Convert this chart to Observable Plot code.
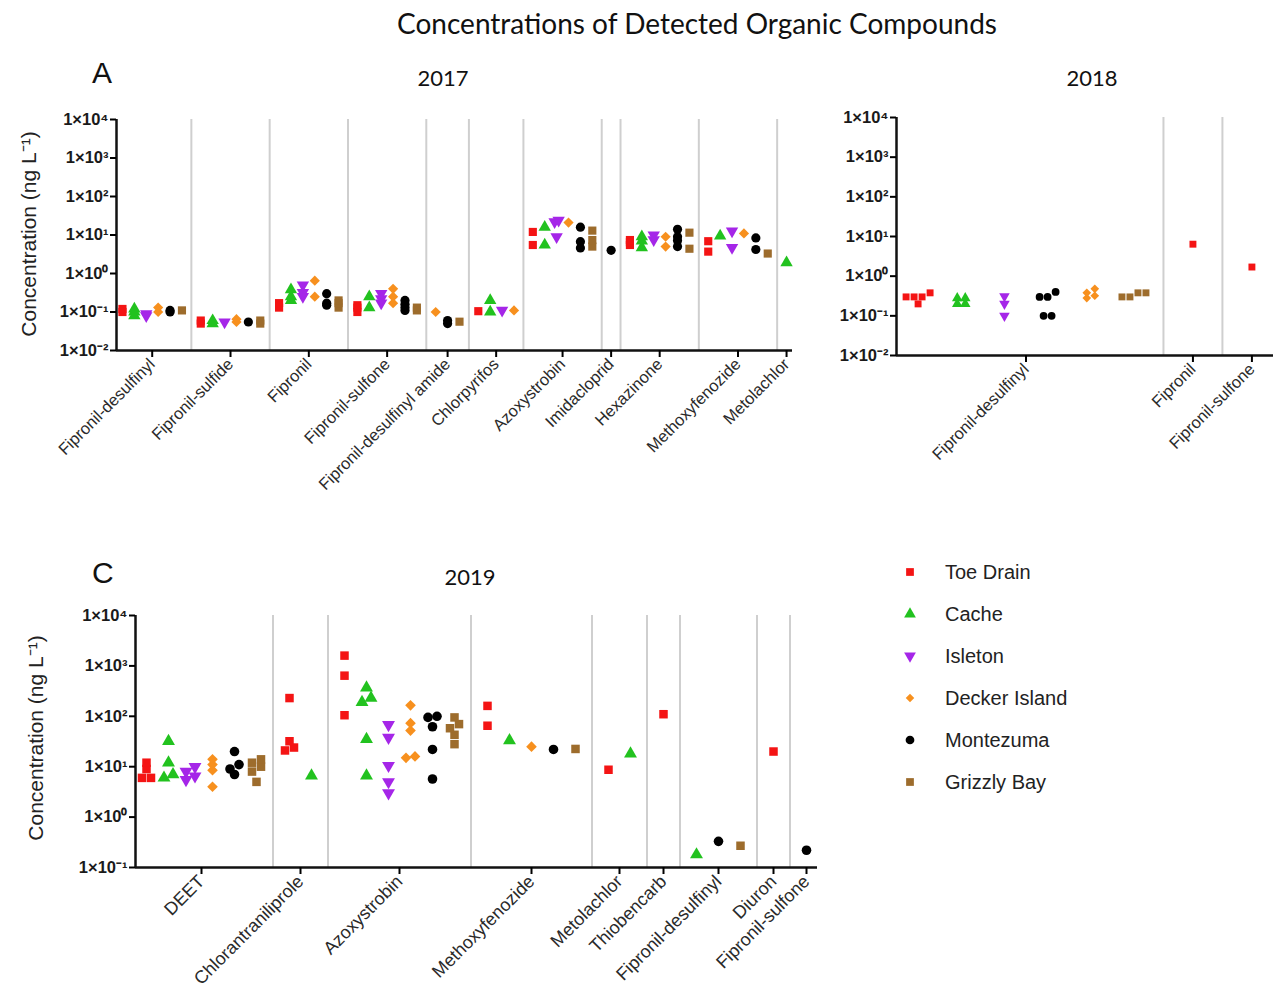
<!DOCTYPE html>
<html>
<head>
<meta charset="utf-8">
<script src="https://cdn.jsdelivr.net/npm/d3@7"></script>
<script src="https://cdn.jsdelivr.net/npm/@observablehq/plot@0.6"></script>
<style>
  body { margin: 0; background: #fff; width: 1284px; height: 1005px; position: relative; overflow: hidden;
         font-family: "Liberation Sans", Arial, sans-serif; color: #111; }
  .abs { position: absolute; white-space: nowrap; }
  .title { font-family: Lato, "Open Sans", sans-serif; font-size: 28px; color: #111; }
  .ptitle { font-family: Lato, "Open Sans", sans-serif; font-size: 22px; color: #111; }
  .letter { font-size: 30px; color: #111; }
  .ylab { font-size: 21px; color: #222; transform: translate(-50%, -50%) rotate(-90deg); }
  .panel svg { font-family: "Liberation Sans", Arial, sans-serif !important; }
</style>
</head>
<body>
<script>
// ---------- data ----------
const sites = ["Toe Drain", "Cache", "Isleton", "Decker Island", "Montezuma", "Grizzly Bay"];
const siteColors = ["#f41414", "#22c21f", "#a526e8", "#f7901e", "#000000", "#9d6c2c"];

const entries2017 = [
  ["Fipronil-desulfinyl", "Toe Drain", [0.1, 0.12]],
  ["Fipronil-desulfinyl", "Cache", [0.08, 0.1, 0.12]],
  ["Fipronil-desulfinyl", "Isleton", [0.08, 0.09]],
  ["Fipronil-desulfinyl", "Decker Island", [0.1, 0.13]],
  ["Fipronil-desulfinyl", "Montezuma", [0.1, 0.11]],
  ["Fipronil-desulfinyl", "Grizzly Bay", [0.11]],
  ["Fipronil-sulfide", "Toe Drain", [0.05, 0.06]],
  ["Fipronil-sulfide", "Cache", [0.05, 0.06]],
  ["Fipronil-sulfide", "Isleton", [0.055]],
  ["Fipronil-sulfide", "Decker Island", [0.055, 0.065]],
  ["Fipronil-sulfide", "Montezuma", [0.055]],
  ["Fipronil-sulfide", "Grizzly Bay", [0.05, 0.06]],
  ["Fipronil", "Toe Drain", [0.13, 0.17]],
  ["Fipronil", "Cache", [0.2, 0.25, 0.38]],
  ["Fipronil", "Isleton", [0.25, 0.32, 0.5]],
  ["Fipronil", "Decker Island", [0.25, 0.65]],
  ["Fipronil", "Montezuma", [0.15, 0.17, 0.3]],
  ["Fipronil", "Grizzly Bay", [0.13, 0.17, 0.2]],
  ["Fipronil-sulfone", "Toe Drain", [0.1, 0.13, 0.15]],
  ["Fipronil-sulfone", "Cache", [0.13, 0.25]],
  ["Fipronil-sulfone", "Isleton", [0.17, 0.22, 0.3]],
  ["Fipronil-sulfone", "Decker Island", [0.17, 0.25, 0.4]],
  ["Fipronil-sulfone", "Montezuma", [0.11, 0.13, 0.16, 0.2]],
  ["Fipronil-sulfone", "Grizzly Bay", [0.11, 0.13]],
  ["Fipronil-desulfinyl amide", "Decker Island", [0.1]],
  ["Fipronil-desulfinyl amide", "Montezuma", [0.05, 0.06]],
  ["Fipronil-desulfinyl amide", "Grizzly Bay", [0.056]],
  ["Chlorpyrifos", "Toe Drain", [0.105]],
  ["Chlorpyrifos", "Cache", [0.1, 0.2]],
  ["Chlorpyrifos", "Isleton", [0.11]],
  ["Chlorpyrifos", "Decker Island", [0.11]],
  ["Azoxystrobin", "Toe Drain", [5.5, 12]],
  ["Azoxystrobin", "Cache", [5.5, 16]],
  ["Azoxystrobin", "Isleton", [9, 22, 24]],
  ["Azoxystrobin", "Decker Island", [21]],
  ["Azoxystrobin", "Montezuma", [4.6, 6.7, 16]],
  ["Azoxystrobin", "Grizzly Bay", [5, 7.4, 13]],
  ["Imidacloprid", "Montezuma", [4]],
  ["Hexazinone", "Toe Drain", [5.5, 6.5, 7.4]],
  ["Hexazinone", "Cache", [4.7, 7, 9]],
  ["Hexazinone", "Isleton", [7.5, 10]],
  ["Hexazinone", "Decker Island", [5, 9]],
  ["Hexazinone", "Montezuma", [5, 7.2, 9, 14]],
  ["Hexazinone", "Grizzly Bay", [4.4, 11.5]],
  ["Methoxyfenozide", "Toe Drain", [3.7, 6.9]],
  ["Methoxyfenozide", "Cache", [9.5]],
  ["Methoxyfenozide", "Isleton", [4.7, 12.7]],
  ["Methoxyfenozide", "Decker Island", [11]],
  ["Methoxyfenozide", "Montezuma", [4.2, 8.4]],
  ["Methoxyfenozide", "Grizzly Bay", [3.3]],
  ["Metolachlor", "Cache", [1.9]]
];

const entries2018 = [
  ["Fipronil-desulfinyl", "Toe Drain", [0.2, 0.3, 0.3, 0.3, 0.38]],
  ["Fipronil-desulfinyl", "Cache", [0.2, 0.2, 0.28, 0.28]],
  ["Fipronil-desulfinyl", "Isleton", [0.1, 0.2, 0.31]],
  ["Fipronil-desulfinyl", "Montezuma", [0.1, 0.1, 0.3, 0.3, 0.4]],
  ["Fipronil-desulfinyl", "Decker Island", [0.28, 0.32, 0.38, 0.48]],
  ["Fipronil-desulfinyl", "Grizzly Bay", [0.3, 0.3, 0.38, 0.38]],
  ["Fipronil", "Toe Drain", [6.4]],
  ["Fipronil-sulfone", "Toe Drain", [1.7]]
];

const entries2019 = [
  ["DEET", "Toe Drain", [6, 6, 9, 12]],
  ["DEET", "Cache", [6, 7, 12, 32]],
  ["DEET", "Isleton", [5.5, 6.5, 8, 10]],
  ["DEET", "Decker Island", [4, 8.5, 11, 14]],
  ["DEET", "Montezuma", [7, 9, 11, 20]],
  ["DEET", "Grizzly Bay", [5, 8, 10, 12, 14]],
  ["Chlorantraniliprole", "Toe Drain", [21, 24, 32, 230]],
  ["Chlorantraniliprole", "Cache", [6.6]],
  ["Azoxystrobin", "Toe Drain", [105, 640, 1600]],
  ["Azoxystrobin", "Cache", [6.6, 35, 190, 230, 370]],
  ["Azoxystrobin", "Isleton", [3, 5, 10.5, 38, 68]],
  ["Azoxystrobin", "Decker Island", [15, 16, 52, 73, 165]],
  ["Azoxystrobin", "Montezuma", [5.7, 22, 62, 95, 100]],
  ["Azoxystrobin", "Grizzly Bay", [28, 43, 58, 70, 95]],
  ["Methoxyfenozide", "Toe Drain", [65, 161]],
  ["Methoxyfenozide", "Cache", [33]],
  ["Methoxyfenozide", "Decker Island", [25]],
  ["Methoxyfenozide", "Montezuma", [22]],
  ["Methoxyfenozide", "Grizzly Bay", [22.5]],
  ["Metolachlor", "Toe Drain", [8.7]],
  ["Metolachlor", "Cache", [18]],
  ["Thiobencarb", "Toe Drain", [110]],
  ["Fipronil-desulfinyl", "Cache", [0.18]],
  ["Fipronil-desulfinyl", "Montezuma", [0.33]],
  ["Fipronil-desulfinyl", "Grizzly Bay", [0.27]],
  ["Diuron", "Toe Drain", [20]],
  ["Fipronil-sulfone", "Montezuma", [0.22]]
];

// ---------- helpers ----------
const triangleDown = {
  draw(context, size) {
    const s3 = Math.sqrt(3);
    const y = -Math.sqrt(size / (s3 * 3));
    context.moveTo(0, -y * 2);
    context.lineTo(-s3 * y, y);
    context.lineTo(s3 * y, y);
    context.closePath();
  }
};
const siteSymbols = ["square", "triangle", triangleDown, "diamond2", "circle", "square"];

const sup = {"-": "\u207B", "0": "\u2070", "1": "\u00B9", "2": "\u00B2", "3": "\u00B3", "4": "\u2074"};
const fmtPow = d => "1\u00D710" + String(Math.round(Math.log10(d))).split("").map(c => sup[c]).join("");

function makePanel(entries, o) {
  const groups = [];
  let pos = 0;
  const cols = [];
  for (const [comp, site, vals] of entries) {
    let g = groups.find(g => g.name === comp);
    if (!g) {
      if (groups.length) pos += o.gap;
      g = {name: comp, start: pos};
      groups.push(g);
    }
    cols.push({comp, site, vals, center: pos + 0.5});
    pos += 1;
    g.end = pos;
  }
  const total = pos;
  groups.forEach(g => g.center = (g.start + g.end) / 2);
  const seps = groups.slice(0, -1).map(g => g.end + o.gap / 2);

  const plotW = o.width - o.mL - o.mR;
  const plotH = o.height - o.mT - o.mB;
  const pxUnit = plotW / total;
  const decades = Math.log10(o.ymax) - Math.log10(o.ymin);
  const pxDec = plotH / decades;

  const points = [];
  for (const c of cols) {
    const sorted = c.vals.slice().sort((a, b) => a - b);
    const rows = [];
    for (const v of sorted) {
      const r = rows[rows.length - 1];
      if (r && (Math.log10(v) - Math.log10(r[0])) * pxDec < o.rowThresh) r.push(v);
      else rows.push([v]);
    }
    for (const r of rows) {
      r.forEach((v, i) => {
        const off = (i - (r.length - 1) / 2) * o.spread / pxUnit;
        points.push({x: c.center + off, v, site: c.site});
      });
    }
  }

  const nameByCenter = new Map(groups.map(g => [g.center, g.name]));
  const yTicks = d3.range(Math.round(Math.log10(o.ymin)), Math.round(Math.log10(o.ymax)) + 1).map(e => Math.pow(10, e));

  const chart = Plot.plot({
    width: o.width, height: o.height,
    marginLeft: o.mL, marginRight: o.mR, marginTop: o.mT, marginBottom: o.mB,
    style: {fontFamily: "Liberation Sans, Arial, sans-serif", color: "#000", background: "transparent", overflow: "visible"},
    x: {domain: [0, total], axis: null},
    y: {type: "log", domain: [o.ymin, o.ymax], axis: null},
    symbol: {domain: sites, range: siteSymbols},
    color: {domain: sites, range: siteColors},
    marks: [
      Plot.ruleX(seps, {stroke: "#cfcfcf", strokeWidth: 2}),
      Plot.dot(points, {x: "x", y: "v", symbol: "site", fill: "site", r: o.r, stroke: "none"}),
      Plot.ruleX([0], {stroke: "#111", strokeWidth: 2.5}),
      Plot.ruleY([o.ymin], {stroke: "#111", strokeWidth: 2.5}),
      Plot.axisY(yTicks, {label: null, tickFormat: fmtPow, tickSize: 6, tickPadding: 2, fontSize: o.yFont, fontWeight: "bold", strokeWidth: 2, fill: "#1a1a1a"}),
      Plot.axisX(groups.map(g => g.center), {label: null, tickFormat: d => nameByCenter.get(d), tickRotate: -45, tickSize: 7, tickPadding: 4, fontSize: o.xFont, strokeWidth: 2, fill: "#2a2a2a"})
    ]
  });
  const div = document.createElement("div");
  div.className = "abs panel";
  div.style.left = o.left + "px";
  div.style.top = o.top + "px";
  div.appendChild(chart);
  document.body.appendChild(div);
}

makePanel(entries2017, {left: 0, top: 100, width: 810, height: 420, mL: 116, mR: 18, mT: 19, mB: 170,
  ymin: 1e-2, ymax: 1e4, gap: 0.58, r: 4.6, rowThresh: 1.5, spread: 4, xFont: 16.5, yFont: 16.5});
makePanel(entries2018, {left: 820, top: 100, width: 464, height: 420, mL: 76, mR: 11, mT: 17, mB: 165,
  ymin: 1e-2, ymax: 1e4, gap: 0.366, r: 3.9, rowThresh: 5, spread: 8, xFont: 16.5, yFont: 16.5});
makePanel(entries2019, {left: 0, top: 590, width: 830, height: 415, mL: 135, mR: 13, mT: 25, mB: 138,
  ymin: 1e-1, ymax: 1e4, gap: 0.5, r: 4.8, rowThresh: 5, spread: 9, xFont: 18, yFont: 16.5});

// ---------- text ----------
function addText(txt, cls, left, top, center) {
  const d = document.createElement("div");
  d.className = "abs " + cls;
  d.textContent = txt;
  d.style.left = left + "px";
  d.style.top = top + "px";
  if (center && !cls.includes("ylab")) d.style.transform = "translateX(-50%)";
  document.body.appendChild(d);
  return d;
}
addText("Concentrations of Detected Organic Compounds", "title", 697, 6, true);
addText("A", "letter", 92, 56, false);
addText("C", "letter", 92, 556, false);
addText("2017", "ptitle", 443, 64, true);
addText("2018", "ptitle", 1092, 64, true);
addText("2019", "ptitle", 470, 563, true);
addText("Concentration (ng L\u207B\u00B9)", "ylab", 28, 234, false);
addText("Concentration (ng L\u207B\u00B9)", "ylab", 35, 738, false);

// ---------- legend ----------
const leg = d3.select("body").append("svg")
  .attr("class", "abs").style("left", "895px").style("top", "552px")
  .attr("width", 260).attr("height", 250);
sites.forEach((s, i) => {
  const y = 20 + i * 42;
  const sym = typeof siteSymbols[i] === "string"
    ? {square: d3.symbolSquare, triangle: d3.symbolTriangle, diamond2: d3.symbolSquare, circle: d3.symbolCircle}[siteSymbols[i]]
    : siteSymbols[i];
  leg.append("path")
    .attr("d", d3.symbol(sym, siteSymbols[i] === "diamond2" ? 36 : 60)())
    .attr("transform", `translate(15,${y})` + (siteSymbols[i] === "diamond2" ? " rotate(45)" : ""))
    .attr("fill", siteColors[i]);
  leg.append("text").attr("x", 50).attr("y", y + 7)
    .attr("font-family", "Liberation Sans, Arial, sans-serif").attr("font-size", 20).attr("fill", "#222")
    .text(s);
});
</script>
</body>
</html>
